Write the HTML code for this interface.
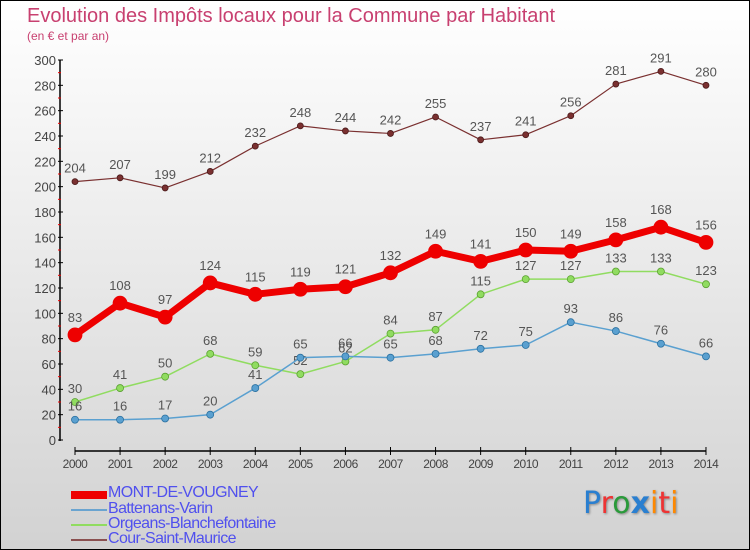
<!DOCTYPE html>
<html><head><meta charset="utf-8"><style>
body{margin:0;}
#wrap{position:relative;width:748px;height:548px;border:1px solid #000;background:linear-gradient(#ffffff,#d2d2d2);overflow:hidden;font-family:"Liberation Sans",sans-serif;}
.t{position:absolute;color:#c84070;}
.leg{position:absolute;left:107px;font-size:16px;color:#5050ee;letter-spacing:-0.6px;}
.sw{position:absolute;left:70px;width:36px;}
</style></head><body>
<div id="wrap">
<div class="t" style="left:26px;top:4px;font-size:20px;">Evolution des Impôts locaux pour la Commune par Habitant</div>
<div class="t" style="left:26px;top:28px;font-size:12px;">(en € et par an)</div>
<svg id="svg" width="748" height="548" style="position:absolute;left:0;top:0"></svg>
<div class="sw" style="top:490px;height:8px;background:#e00;"></div>
<div class="leg" style="top:483px;">MONT-DE-VOUGNEY</div>
<div class="sw" style="top:508px;height:2px;background:#6aa4d0;"></div>
<div class="leg" style="top:499px;">Battenans-Varin</div>
<div class="sw" style="top:523px;height:2px;background:#90dc60;"></div>
<div class="leg" style="top:514px;">Orgeans-Blanchefontaine</div>
<div class="sw" style="top:538px;height:2px;background:#8a5050;"></div>
<div class="leg" style="top:529px;">Cour-Saint-Maurice</div>
<div style="position:absolute;left:582px;top:485px;font-size:30px;font-family:'DejaVu Sans',sans-serif;text-shadow:1px 1px 2px #888;"><span style="color:#2a7fd0">P</span><span style="color:#e33">r</span><span style="color:#2a9a3a">o</span><span style="color:#2a7fd0;font-weight:bold">x</span><span style="color:#f80">i</span><span style="color:#e33">t</span><span style="color:#f80">i</span></div>
</div>
<script>
const years=[2000,2001,2002,2003,2004,2005,2006,2007,2008,2009,2010,2011,2012,2013,2014];
const mont=[83,108,97,124,115,119,121,132,149,141,150,149,158,168,156];
const batt=[16,16,17,20,41,65,66,65,68,72,75,93,86,76,66];
const orge=[30,41,50,68,59,52,62,84,87,115,127,127,133,133,123];
const cour=[204,207,199,212,232,248,244,242,255,237,241,256,281,291,280];
const yTicks=[0,20,40,60,80,100,120,140,160,180,200,220,240,260,280,300];
const NS="http://www.w3.org/2000/svg";
const svg=document.getElementById('svg');
const x=i=>74+i*45.07;
const y=v=>439-v*1.2667;
function el(t,a,p){const e=document.createElementNS(NS,t);for(const k in a)e.setAttribute(k,a[k]);(p||svg).appendChild(e);return e;}
let ax=el('line',{x1:59,y1:59,x2:59,y2:440,stroke:'#000','stroke-width':1.5});


yTicks.forEach(v=>{
  el('line',{x1:57,y1:y(v),x2:62,y2:y(v),stroke:'#000'});
  if(v<300) el('line',{x1:57,y1:y(v+10),x2:60,y2:y(v+10),stroke:'#e00'});
  const t=el('text',{x:55,y:y(v)+5,'text-anchor':'end','font-size':13,fill:'#444'});t.textContent=v;
  
  
});
let xa=el('line',{x1:x(0),y1:450,x2:x(14),y2:450,stroke:'#000','stroke-width':1.5});


years.forEach((yr,i)=>{
  el('line',{x1:x(i),y1:446,x2:x(i),y2:454,stroke:'#000'});
  const t=el('text',{x:x(i),y:467,'text-anchor':'middle','font-size':12,fill:'#444','letter-spacing':'-0.5'});t.textContent=yr;
  
  
});
function series(d,col,w,r,name,lab,off){
  const g=el('g',{});
  
  
  el('polyline',{points:d.map((v,i)=>x(i)+','+y(v)).join(' '),fill:'none',stroke:col,'stroke-width':w,'stroke-linejoin':'round'},g);
  d.forEach((v,i)=>{
    const c=el('circle',{cx:x(i),cy:y(v),r:r,fill:col,stroke:lab,'stroke-width':0.8},g);
    
    
    const t=el('text',{x:x(i),y:y(v)-off,'text-anchor':'middle','font-size':13,fill:'#555'},g);t.textContent=v;
    
    
  });
}
series(cour,'#7a3030',1.2,3,'series-cour','#4a1a1a',9);
series(orge,'#90dc60',1.5,3.5,'series-orgeans','#5aa030',9);
series(batt,'#5aa0d0',1.5,3.5,'series-battenans','#2a70a0',9);
series(mont,'#ee0000',7,7,'series-mont','#e00',13);
</script>
</body></html>
